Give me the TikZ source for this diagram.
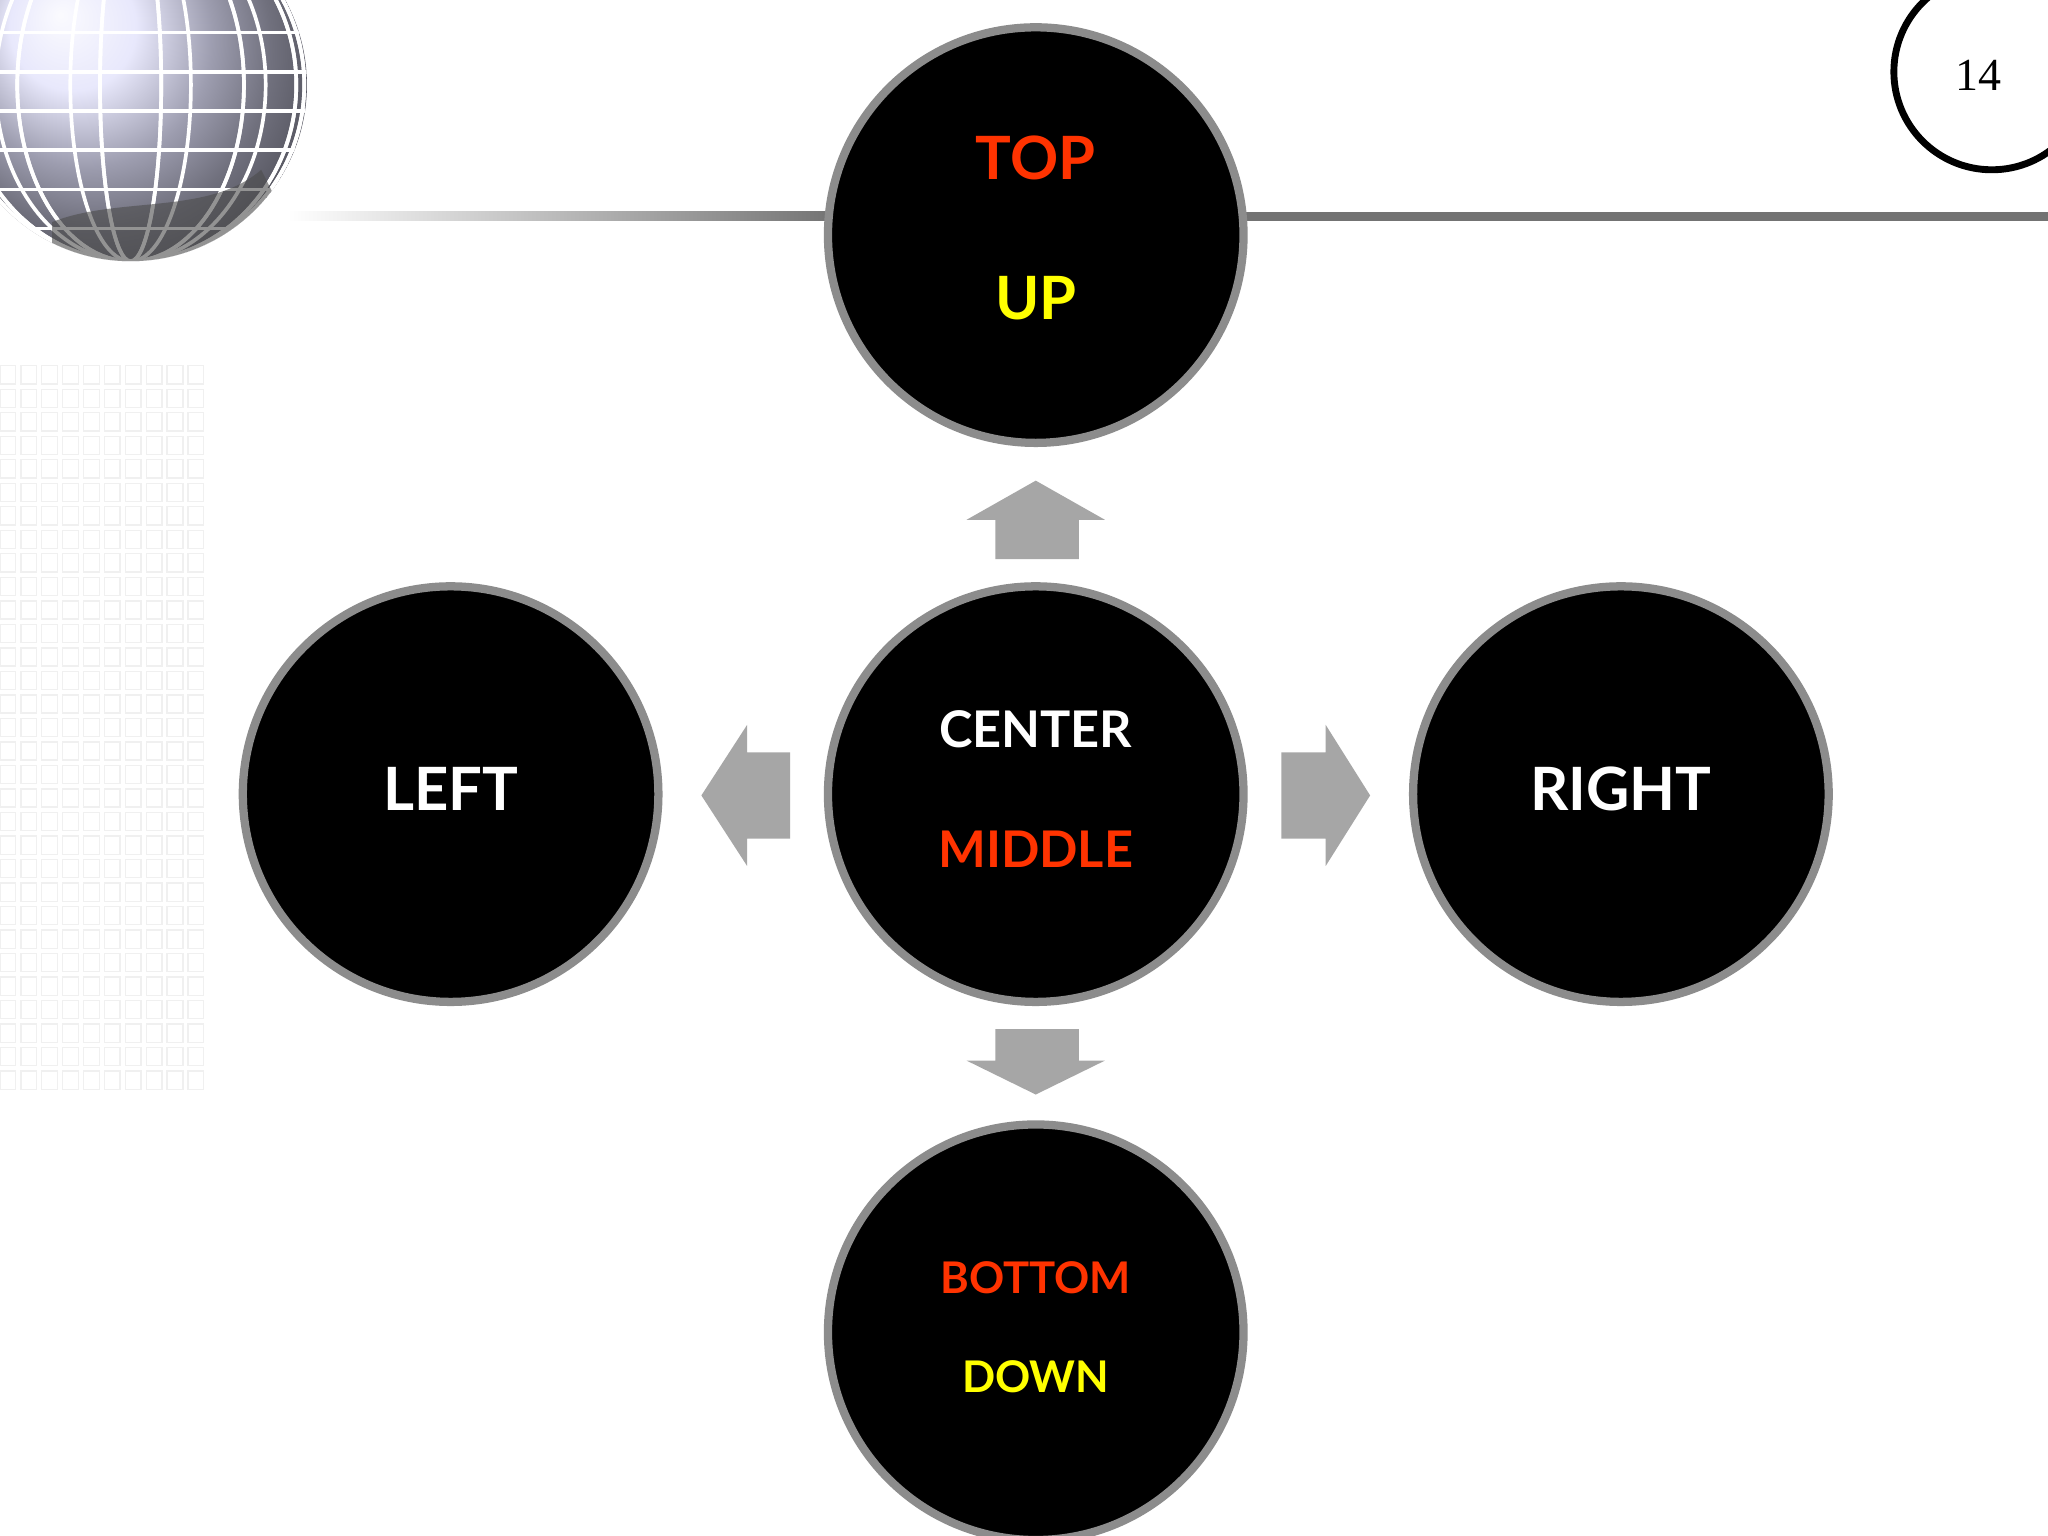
\documentclass[tikz,border=0pt]{standalone}
\usepackage{fontspec}
\setmainfont{Lato}
\begin{document}
\begin{tikzpicture}[x=0.01cm,y=-0.01cm,
  circ/.style={circle,fill=black,draw=gray!90,line width=1.8pt,minimum size=3.18cm,inner sep=0pt,align=center,font=\bfseries},
  arr/.style={fill=black!35,draw=none}]
\definecolor{rd}{HTML}{FF3300}
\definecolor{yl}{HTML}{FFFF00}
\useasboundingbox (0,0) rectangle (1568,1176);
\fill[white] (0,0) rectangle (1568,1176);
% faint grid at left
\foreach \i in {0,...,9} \foreach \j in {0,...,30}
  \draw[black!6,line width=0.3pt] (\i*16,280+\j*18) rectangle ++(12,14);
% globe
\begin{scope}
\clip (0,0) rectangle (1568,1176);
\shade[ball color=black!15!blue!12] (100,65) circle (135);
\begin{scope}
\clip (100,65) circle (135);
\foreach \a in {-80,-50,...,200} \draw[white,line width=0.8pt] (100,65) ellipse ({abs(135*cos(\a))} and 135);
\foreach \b in {-100,-70,...,120} \draw[white,line width=0.8pt] (-40,65+\b) -- (240,65+\b);
\fill[black!70,opacity=0.6] (40,170) .. controls (90,150) and (160,165) .. (200,130) -- (240,210) -- (40,215) -- cycle;
\end{scope}
\end{scope}
% horizontal line
\shade[left color=white,right color=black!55] (220,162) rectangle (640,169);
\fill[black!55] (640,162) rectangle (1568,169);
% page number circle
\draw[line width=1.5pt] (1525,55) circle (75);
\node[font=\fontspec{Liberation Serif}\normalsize] (pg) at (1515,58) {14};
% arrows
\fill[arr] (762,428) -- (762,398) -- (740,398) -- (793,368) -- (846,398) -- (826,398) -- (826,428) -- cycle;
\fill[arr] (762,788) -- (762,812) -- (740,812) -- (793,838) -- (846,812) -- (826,812) -- (826,788) -- cycle;
\fill[arr] (605,576) -- (572,576) -- (572,555) -- (537,609) -- (572,663) -- (572,642) -- (605,642) -- cycle;
\fill[arr] (981,576) -- (1015,576) -- (1015,555) -- (1049,609) -- (1015,663) -- (1015,642) -- (981,642) -- cycle;
% circles
\node[circ] (top) at (793,180) {};
\node[font=\bfseries\fontsize{13}{16}\selectfont,text=rd] (t1) at (793,121) {TOP};
\node[font=\bfseries\fontsize{13}{16}\selectfont,text=yl] (t2) at (793,228) {UP};
\node[circ] (c) at (793,608) {};
\node[font=\bfseries\fontsize{11}{14}\selectfont,text=white] (c1) at (793,558) {CENTER};
\node[font=\bfseries\fontsize{11}{14}\selectfont,text=rd] (c2) at (793,650) {MIDDLE};
\node[circ] (l) at (345,608) {};
\node[text=white,font=\bfseries\fontsize{13}{16}\selectfont] (lt) at (345,604) {LEFT};
\node[circ] (r) at (1241,608) {};
\node[text=white,font=\bfseries\fontsize{13}{16}\selectfont] (rt) at (1241,604) {RIGHT};
\node[circ] (b) at (793,1020) {};
\node[font=\bfseries\fontsize{9.5}{12}\selectfont,text=rd] (b1) at (793,978) {BOTTOM};
\node[font=\bfseries\fontsize{9.5}{12}\selectfont,text=yl] (b2) at (793,1054) {DOWN};
\end{tikzpicture}
\end{document}
